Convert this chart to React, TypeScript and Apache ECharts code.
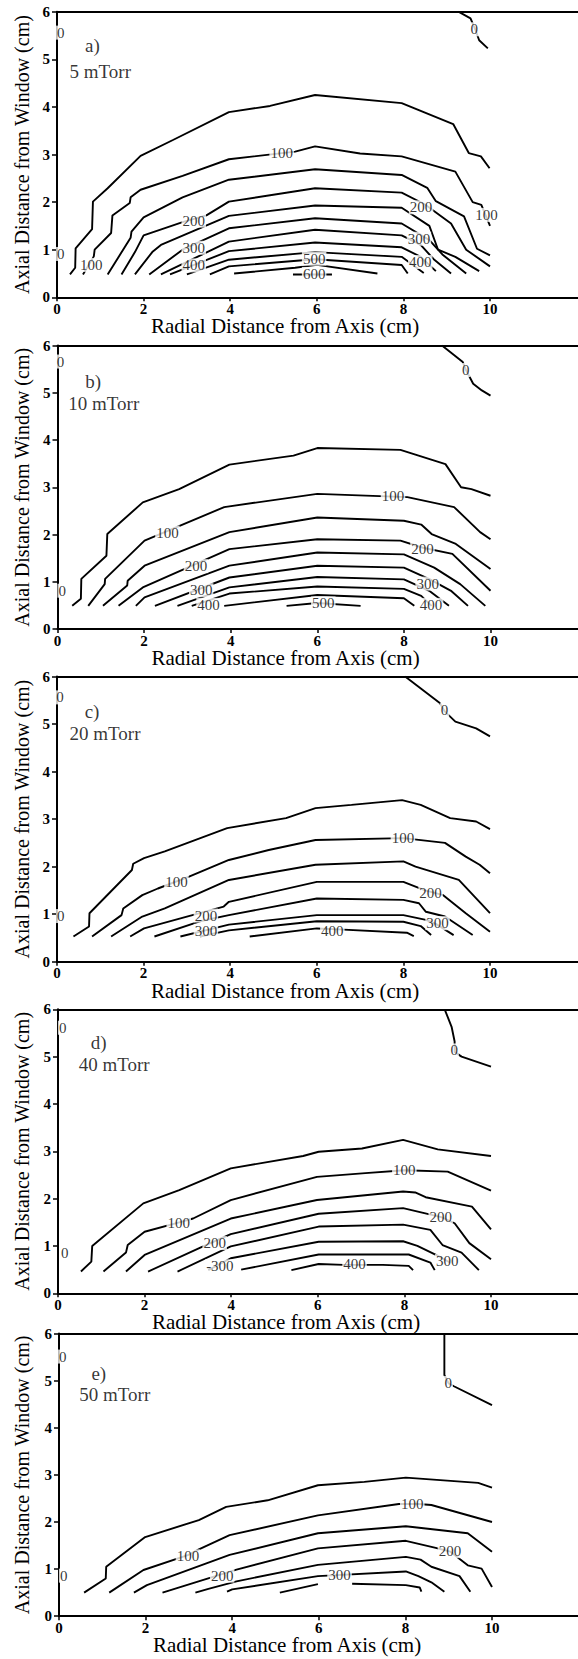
import React, { useEffect, useRef } from "react";
import * as echarts from "echarts";

type Pt = [number, number];
type Lbl = [number, number, string];

// ---------- shared ticks ----------
const xTickValues = [0, 2, 4, 6, 8, 10];
const yTickValues = [0, 1, 2, 3, 4, 5, 6];

// ---------- Panel a : 5 mTorr ----------
const aLines: Pt[][] = [
  [[9.27, 6.0], [9.55, 5.86], [9.67, 5.6], [9.75, 5.4], [9.95, 5.23]],
  [[0.3, 0.48], [0.42, 0.62], [0.43, 1.03], [0.81, 1.43], [0.83, 2.01], [1.17, 2.29], [1.93, 2.97], [2.69, 3.31], [3.97, 3.89], [4.92, 4.02], [5.96, 4.25], [7.96, 4.08], [9.15, 3.64], [9.51, 3.03], [9.79, 2.96], [9.99, 2.71]],
  [[0.6, 0.48], [0.85, 0.86], [0.87, 1.0], [1.25, 1.35], [1.28, 1.72], [1.68, 1.98], [1.7, 2.1], [1.93, 2.26], [2.9, 2.55], [3.97, 2.9], [5.5, 3.06], [5.96, 3.17], [7.0, 3.02], [7.96, 2.96], [9.2, 2.64], [9.6, 2.0], [9.8, 1.94], [10, 1.5]],
  [[1.17, 0.48], [1.7, 1.25], [1.72, 1.38], [2.0, 1.68], [2.9, 2.1], [3.97, 2.47], [5.96, 2.69], [7.96, 2.57], [8.55, 2.3], [8.75, 2.02], [9.4, 1.7], [9.7, 1.02], [10, 0.88]],
  [[1.49, 0.48], [1.8, 0.95], [2.0, 1.3], [2.9, 1.58], [3.45, 1.72], [3.97, 2.01], [5.96, 2.29], [7.96, 2.2], [8.5, 1.95], [9.1, 1.55], [9.45, 1.0], [10, 0.65]],
  [[1.8, 0.48], [2.2, 0.95], [2.4, 1.1], [3.97, 1.71], [5.96, 1.93], [7.96, 1.88], [8.6, 1.5], [8.8, 1.0], [9.2, 0.85], [9.75, 0.55]],
  [[2.13, 0.48], [2.9, 1.0], [3.97, 1.45], [5.96, 1.66], [7.96, 1.55], [8.6, 1.2], [8.9, 0.9], [9.45, 0.5]],
  [[2.4, 0.48], [3.97, 1.17], [5.96, 1.42], [7.96, 1.3], [8.4, 1.1], [8.7, 0.8], [9.1, 0.5]],
  [[2.61, 0.48], [3.97, 0.97], [5.96, 1.15], [7.96, 1.05], [8.4, 0.85], [8.75, 0.55]],
  [[3.0, 0.48], [3.97, 0.79], [5.96, 0.95], [7.96, 0.85], [8.47, 0.51]],
  [[3.53, 0.48], [3.97, 0.65], [5.96, 0.8], [7.96, 0.68], [8.1, 0.5]],
  [[4.09, 0.5], [5.5, 0.62], [6.0, 0.68], [7.4, 0.5]],
  [[5.45, 0.48], [6.35, 0.48]],
];
const aLabels: Lbl[] = [
  [0.1, 5.55, "0"], [0.1, 0.9, "0"], [9.65, 5.62, "0"],
  [5.2, 3.02, "100"], [0.8, 0.67, "100"], [9.93, 1.72, "100"],
  [3.17, 1.6, "200"], [8.42, 1.88, "200"],
  [3.17, 1.03, "300"], [8.37, 1.22, "300"],
  [3.17, 0.66, "400"], [8.4, 0.73, "400"],
  [5.95, 0.8, "500"], [5.95, 0.48, "600"],
];

// ---------- Panel b : 10 mTorr ----------
const bLines: Pt[][] = [
  [[8.88, 6.0], [9.36, 5.65], [9.44, 5.47], [9.6, 5.19], [9.8, 5.05], [10, 4.94]],
  [[0.34, 0.49], [0.54, 0.64], [0.55, 1.06], [1.13, 1.55], [1.15, 2.01], [1.97, 2.68], [2.81, 2.96], [3.97, 3.48], [5.45, 3.67], [6.0, 3.83], [7.92, 3.79], [8.96, 3.49], [9.32, 3.0], [9.56, 2.96], [10, 2.82]],
  [[0.71, 0.49], [1.09, 0.95], [1.1, 1.06], [2.01, 1.87], [3.85, 2.58], [6.0, 2.86], [8.08, 2.79], [9.16, 2.58], [9.76, 2.05], [10, 1.9]],
  [[1.05, 0.49], [1.61, 0.92], [1.62, 1.02], [2.01, 1.34], [3.97, 2.05], [6.0, 2.36], [8.0, 2.29], [8.4, 2.21], [8.64, 2.01], [9.2, 1.8], [10, 1.27]],
  [[1.41, 0.49], [1.97, 0.88], [3.97, 1.69], [6.0, 1.9], [7.92, 1.87], [8.44, 1.72], [9.12, 1.59], [10, 0.81]],
  [[1.81, 0.49], [2.01, 0.67], [3.97, 1.34], [6.0, 1.62], [8.0, 1.58], [8.7, 1.3], [9.3, 0.95], [9.88, 0.49]],
  [[2.25, 0.49], [3.97, 1.09], [6.0, 1.34], [8.0, 1.3], [8.6, 1.05], [9.1, 0.8], [9.48, 0.49]],
  [[2.77, 0.49], [3.97, 0.88], [6.0, 1.1], [8.0, 1.05], [8.6, 0.8], [9.04, 0.49]],
  [[3.1, 0.49], [3.97, 0.75], [6.0, 0.9], [8.0, 0.85], [8.4, 0.7], [8.64, 0.49]],
  [[3.85, 0.49], [6.0, 0.72], [8.0, 0.65], [8.24, 0.49]],
  [[5.29, 0.49], [6.0, 0.55], [7.0, 0.49]],
];
const bLabels: Lbl[] = [
  [0.08, 5.65, "0"], [0.12, 0.8, "0"], [9.44, 5.47, "0"],
  [2.55, 2.03, "100"], [7.76, 2.8, "100"],
  [3.21, 1.32, "200"], [8.44, 1.69, "200"],
  [3.33, 0.81, "300"], [8.56, 0.95, "300"],
  [3.5, 0.5, "400"], [8.64, 0.5, "400"],
  [6.15, 0.53, "500"],
];

// ---------- Panel c : 20 mTorr ----------
const cLines: Pt[][] = [
  [[8.04, 6.0], [8.84, 5.44], [8.96, 5.26], [9.2, 5.05], [9.68, 4.91], [10, 4.74]],
  [[0.38, 0.53], [0.74, 0.74], [0.75, 1.02], [1.73, 1.93], [1.76, 2.06], [2.01, 2.18], [2.49, 2.32], [3.93, 2.81], [5.29, 3.02], [5.97, 3.23], [6.8, 3.3], [7.97, 3.4], [8.4, 3.3], [9.08, 3.02], [9.68, 2.95], [10, 2.79]],
  [[0.81, 0.53], [1.49, 0.98], [1.53, 1.12], [1.97, 1.4], [2.33, 1.54], [3.05, 1.79], [3.97, 2.14], [4.89, 2.35], [5.97, 2.56], [8.0, 2.6], [8.96, 2.5], [9.44, 2.21], [9.76, 2.04], [10, 1.86]],
  [[1.25, 0.53], [1.97, 0.95], [2.49, 1.12], [3.97, 1.72], [5.97, 2.04], [8.0, 2.11], [8.28, 2.0], [9.28, 1.72], [10, 1.02]],
  [[1.69, 0.53], [2.01, 0.7], [3.0, 0.95], [3.85, 1.16], [3.97, 1.26], [6.0, 1.68], [8.0, 1.68], [8.5, 1.5], [8.92, 1.4], [9.44, 1.02], [10, 0.63]],
  [[2.25, 0.53], [3.3, 0.85], [3.97, 0.98], [6.0, 1.33], [8.0, 1.3], [8.36, 1.23], [8.52, 1.05], [8.96, 0.95], [9.6, 0.56]],
  [[2.85, 0.53], [3.97, 0.78], [6.0, 0.98], [8.0, 0.98], [8.52, 0.88], [8.76, 0.79], [9.16, 0.56]],
  [[3.3, 0.53], [3.97, 0.66], [6.0, 0.85], [8.0, 0.84], [8.4, 0.75], [8.64, 0.56]],
  [[4.45, 0.53], [6.0, 0.7], [6.5, 0.68], [8.08, 0.61], [8.24, 0.54]],
];
const cLabels: Lbl[] = [
  [0.08, 5.55, "0"], [0.1, 0.95, "0"], [8.96, 5.28, "0"],
  [2.77, 1.66, "100"], [8.0, 2.6, "100"],
  [3.45, 0.96, "200"], [8.64, 1.44, "200"],
  [3.45, 0.64, "300"], [8.8, 0.8, "300"],
  [6.37, 0.64, "400"],
];

// ---------- Panel d : 40 mTorr ----------
const dLines: Pt[][] = [
  [[8.93, 6.0], [9.09, 5.63], [9.16, 5.32], [9.16, 5.1], [9.32, 5.0], [10, 4.79]],
  [[0.53, 0.46], [0.77, 0.67], [0.79, 1.0], [1.97, 1.9], [2.8, 2.18], [3.99, 2.64], [5.66, 2.9], [6.02, 2.99], [7.02, 3.06], [7.97, 3.24], [8.77, 3.04], [10, 2.9]],
  [[1.05, 0.46], [1.57, 0.86], [1.61, 1.02], [2.0, 1.3], [2.8, 1.5], [3.12, 1.58], [3.99, 1.97], [5.98, 2.46], [7.1, 2.54], [8.01, 2.6], [9.0, 2.57], [10, 2.17]],
  [[1.57, 0.46], [2.0, 0.81], [3.99, 1.58], [5.98, 1.97], [7.97, 2.15], [8.25, 2.13], [8.49, 2.03], [9.56, 1.83], [10, 1.35]],
  [[2.08, 0.46], [3.3, 0.97], [3.99, 1.25], [6.02, 1.68], [7.97, 1.8], [8.85, 1.61], [9.16, 1.48], [9.5, 1.06], [10, 0.72]],
  [[2.76, 0.46], [3.99, 0.99], [6.02, 1.41], [7.97, 1.45], [8.6, 1.34], [8.88, 1.02], [9.32, 0.86], [9.72, 0.49]],
  [[3.47, 0.49], [3.99, 0.74], [6.02, 1.09], [7.97, 1.1], [8.3, 1.0], [8.8, 0.78], [9.05, 0.65]],
  [[4.23, 0.5], [6.02, 0.82], [8.1, 0.82], [8.6, 0.65], [8.7, 0.49]],
  [[5.39, 0.49], [6.02, 0.62], [6.6, 0.6], [7.5, 0.6], [8.1, 0.58], [8.2, 0.49]],
];
const dLabels: Lbl[] = [
  [0.12, 5.6, "0"], [0.17, 0.85, "0"], [9.16, 5.12, "0"],
  [2.8, 1.48, "100"], [8.01, 2.6, "100"],
  [3.63, 1.05, "200"], [8.85, 1.61, "200"],
  [3.75, 0.56, "-300"], [9.0, 0.67, "300"],
  [6.86, 0.6, "400"],
];

// ---------- Panel e : 50 mTorr ----------
const eLines: Pt[][] = [
  [[8.9, 6.0], [8.9, 5.12], [9.0, 4.94], [9.12, 4.88], [10, 4.48]],
  [[0.58, 0.5], [1.08, 0.8], [1.09, 1.05], [1.99, 1.68], [3.23, 2.04], [3.86, 2.32], [4.82, 2.46], [5.98, 2.78], [7.05, 2.85], [8.01, 2.94], [9.68, 2.83], [10, 2.73]],
  [[1.16, 0.5], [1.95, 0.98], [2.99, 1.3], [3.23, 1.42], [3.94, 1.72], [5.98, 2.14], [7.85, 2.38], [8.3, 2.38], [8.6, 2.36], [10, 2.0]],
  [[1.73, 0.5], [2.03, 0.66], [3.94, 1.3], [5.98, 1.76], [8.01, 1.91], [9.44, 1.76], [10, 1.37]],
  [[2.39, 0.5], [3.78, 0.9], [4.1, 0.99], [5.98, 1.44], [8.01, 1.6], [8.7, 1.45], [9.04, 1.37], [9.44, 1.08], [9.76, 1.01], [10, 0.62]],
  [[3.15, 0.5], [3.45, 0.58], [4.1, 0.74], [5.98, 1.09], [8.01, 1.26], [8.35, 1.2], [8.6, 1.05], [9.25, 0.85], [9.5, 0.52]],
  [[3.88, 0.52], [4.0, 0.57], [5.98, 0.85], [8.01, 0.95], [8.3, 0.85], [8.6, 0.72], [8.9, 0.52]],
  [[5.1, 0.5], [5.98, 0.68]],
  [[6.77, 0.69], [8.01, 0.66], [8.33, 0.61], [8.37, 0.52]],
];
const eLabels: Lbl[] = [
  [0.1, 5.5, "0"], [0.12, 0.85, "0"], [9.0, 4.94, "0"],
  [2.99, 1.26, "100"], [8.17, 2.38, "100"],
  [3.78, 0.85, "200"], [9.04, 1.37, "200"],
  [6.49, 0.87, "300"],
];

const panelLines = [aLines, bLines, cLines, dLines, eLines];
const panelLabels = [aLabels, bLabels, cLabels, dLabels, eLabels];
const panelLetters = ["a)", "b)", "c)", "d)", "e)"];
const pressures = ["5 mTorr", "10 mTorr", "20 mTorr", "40 mTorr", "50 mTorr"];
const letterPos: Pt[] = [[0.66, 5.27], [0.65, 5.22], [0.65, 5.26], [0.77, 5.28], [0.76, 5.15]];
const pressurePos: Pt[] = [[0.3, 4.74], [0.26, 4.76], [0.3, 4.8], [0.49, 4.82], [0.48, 4.69]];

const xTitle = "Radial Distance from Axis (cm)";
const yTitle = "Axial Distance from Window (cm)";

// ---------- layout (pixels) ----------
const PX_PER_CM = 43.3;
const X_MAX = 12.4;
const layout = [
  { left: 57, top: 11.7, height: 285.6 },
  { left: 57.5, top: 345.5, height: 283.5 },
  { left: 57, top: 676.5, height: 285.2 },
  { left: 58, top: 1009.3, height: 284 },
  { left: 59, top: 1333.5, height: 282.7 },
];
const SERIF = "'Liberation Serif', 'DejaVu Serif', 'Times New Roman', serif";

export default function App() {
  const ref = useRef<HTMLDivElement>(null);

  useEffect(() => {
    document.body.style.margin = "0";
    if (!ref.current) return;
    const chart = echarts.init(ref.current, null, { renderer: "svg" });

    const grids: any[] = [];
    const xAxes: any[] = [];
    const yAxes: any[] = [];
    const series: any[] = [];
    const graphics: any[] = [];

    const plainLabel = {
      color: "#000",
      fontFamily: SERIF,
      textBorderWidth: 0,
      textBorderColor: "transparent",
      textShadowBlur: 0,
    };

    layout.forEach((g, i) => {
      grids.push({
        left: g.left,
        top: g.top,
        width: PX_PER_CM * X_MAX,
        height: g.height,
        containLabel: false,
        outerBoundsMode: "none",
      });
      xAxes.push({
        type: "value",
        gridIndex: i,
        position: "bottom",
        min: 0,
        max: X_MAX,
        interval: 2,
        axisLine: { show: true, onZero: false, lineStyle: { color: "#000", width: 2 } },
        axisTick: { show: true, length: 4, customValues: xTickValues, lineStyle: { color: "#000", width: 1.5 } },
        axisLabel: {
          color: "#000",
          fontFamily: SERIF,
          fontWeight: "bold",
          fontSize: 15,
          margin: 4,
          customValues: xTickValues,
          formatter: (v: number) => (xTickValues.indexOf(v) >= 0 ? String(v) : ""),
        },
        splitLine: { show: false },
      });
      xAxes.push({
        type: "value",
        gridIndex: i,
        position: "top",
        min: 0,
        max: X_MAX,
        axisLine: { show: true, onZero: false, lineStyle: { color: "#000", width: 2 } },
        axisTick: { show: false },
        axisLabel: { show: false },
        splitLine: { show: false },
      });
      yAxes.push({
        type: "value",
        gridIndex: i,
        min: yTickValues[0],
        max: yTickValues[yTickValues.length - 1],
        interval: 1,
        axisLine: { show: true, onZero: false, lineStyle: { color: "#000", width: 2 } },
        axisTick: { show: true, length: 5, lineStyle: { color: "#000", width: 1.5 } },
        axisLabel: { color: "#000", fontFamily: SERIF, fontWeight: "bold", fontSize: 15, margin: 7 },
        splitLine: { show: false },
      });

      panelLines[i].forEach((pts) => {
        series.push({
          type: "line",
          xAxisIndex: i * 2,
          yAxisIndex: i,
          data: pts,
          symbol: "none",
          silent: true,
          lineStyle: { color: "#000", width: 1.9 },
          z: 2,
        });
      });

      series.push({
        type: "scatter",
        xAxisIndex: i * 2,
        yAxisIndex: i,
        symbolSize: 1,
        itemStyle: { color: "rgba(0,0,0,0)" },
        silent: true,
        z: 5,
        data: panelLabels[i].map((l) => ({ value: [l[0], l[1]], name: l[2] })),
        label: {
          show: true,
          position: [0, 0],
          align: "center",
          verticalAlign: "middle",
          formatter: "{b}",
          ...plainLabel,
          fontSize: 15,
          lineHeight: 14,
          backgroundColor: "#fff",
          padding: [0, 1],
        },
      });

      series.push({
        type: "scatter",
        xAxisIndex: i * 2,
        yAxisIndex: i,
        symbolSize: 1,
        itemStyle: { color: "rgba(0,0,0,0)" },
        silent: true,
        z: 5,
        data: [
          { value: letterPos[i], name: panelLetters[i] },
          { value: pressurePos[i], name: pressures[i] },
        ],
        label: {
          show: true,
          position: [0, 0],
          align: "left",
          verticalAlign: "middle",
          formatter: "{b}",
          ...plainLabel,
          fontSize: 19,
        },
      });

      const bottom = g.top + g.height;
      graphics.push({
        type: "text",
        x: g.left + 228,
        y: bottom + 29,
        style: {
          text: xTitle,
          font: `21px ${SERIF}`,
          fill: "#000",
          textAlign: "center",
          textVerticalAlign: "middle",
        },
      });
      graphics.push({
        type: "text",
        x: 22,
        y: g.top + g.height / 2,
        rotation: Math.PI / 2,
        style: {
          text: yTitle,
          font: `20px ${SERIF}`,
          fill: "#000",
          textAlign: "center",
          textVerticalAlign: "middle",
        },
      });
    });

    chart.setOption({
      animation: false,
      backgroundColor: "#fff",
      grid: grids,
      xAxis: xAxes,
      yAxis: yAxes,
      series,
      graphic: graphics,
    });

    return () => chart.dispose();
  }, []);

  return <div ref={ref} style={{ width: 578, height: 1659 }} />;
}
